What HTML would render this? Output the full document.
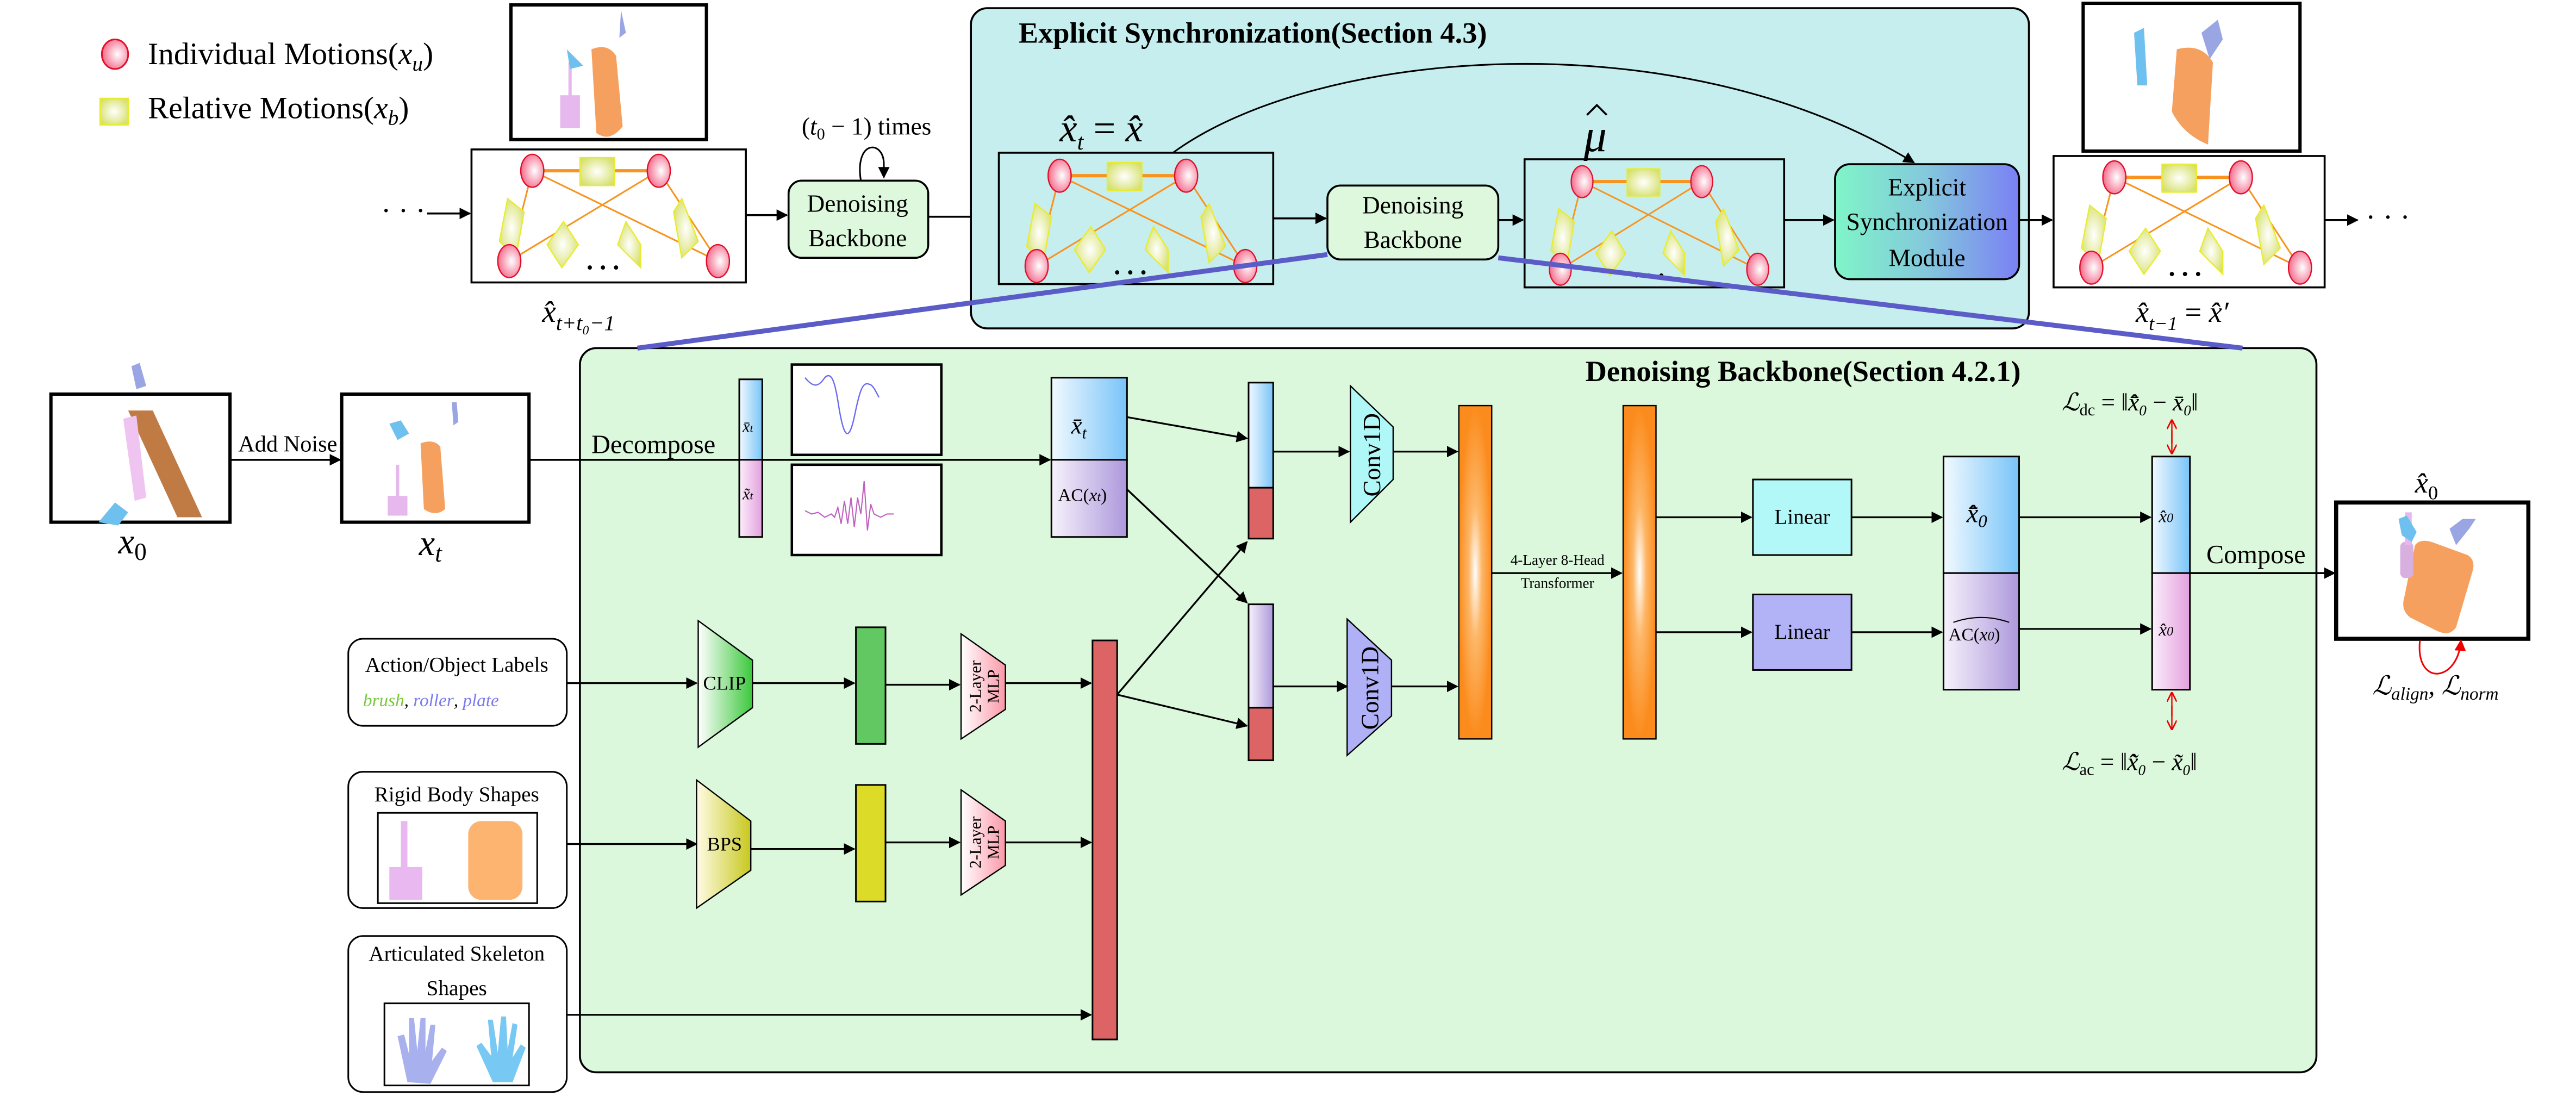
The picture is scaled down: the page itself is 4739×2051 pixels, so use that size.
<!DOCTYPE html>
<html><head><meta charset="utf-8"><style>
html,body{margin:0;padding:0;background:#fff;}
svg{display:block;}
text{font-family:"Liberation Serif",serif;fill:#000;}
</style></head><body>
<svg width="4739" height="2051" viewBox="0 0 1568 679" preserveAspectRatio="none" xmlns="http://www.w3.org/2000/svg">
<defs>
<marker id="ar" viewBox="0 0 10 10" refX="9" refY="5" markerWidth="7" markerHeight="7" orient="auto" markerUnits="userSpaceOnUse"><path d="M0,0 L10,5 L0,10 z" fill="#000"/></marker>
<marker id="rr" viewBox="0 0 10 10" refX="9" refY="5" markerWidth="6" markerHeight="6" orient="auto" markerUnits="userSpaceOnUse"><path d="M0,0 L10,5 L0,10" fill="none" stroke="#e00" stroke-width="1.5"/></marker>
<marker id="rf" viewBox="0 0 10 10" refX="9" refY="5" markerWidth="7" markerHeight="7" orient="auto" markerUnits="userSpaceOnUse"><path d="M0,0 L10,5 L0,10 z" fill="#e00"/></marker>
<radialGradient id="pk" cx="0.6" cy="0.5" r="0.6"><stop offset="0" stop-color="#fff"/><stop offset="1" stop-color="#f46a8c"/></radialGradient>
<radialGradient id="yl" cx="0.5" cy="0.5" r="0.6"><stop offset="0" stop-color="#fff"/><stop offset="1" stop-color="#d6e06a"/></radialGradient>
<linearGradient id="bl" x1="0" x2="1"><stop offset="0" stop-color="#f2f9ff"/><stop offset="1" stop-color="#78c4f8"/></linearGradient>
<linearGradient id="pu" x1="0" x2="1"><stop offset="0" stop-color="#f6f2fb"/><stop offset="1" stop-color="#ad98dc"/></linearGradient>
<linearGradient id="pi" x1="0" x2="1"><stop offset="0" stop-color="#fbeefb"/><stop offset="1" stop-color="#e3a0de"/></linearGradient>
<linearGradient id="gr" x1="0" x2="1"><stop offset="0" stop-color="#fff"/><stop offset="1" stop-color="#3cc83c"/></linearGradient>
<linearGradient id="ye" x1="0" x2="1"><stop offset="0" stop-color="#fffbe6"/><stop offset="1" stop-color="#c8c81e"/></linearGradient>
<linearGradient id="mp" x1="0" x2="1"><stop offset="0" stop-color="#fff"/><stop offset="1" stop-color="#fb98a8"/></linearGradient>
<linearGradient id="esm" x1="0" x2="1"><stop offset="0" stop-color="#7ff5c8"/><stop offset="0.5" stop-color="#84c8dc"/><stop offset="1" stop-color="#7a80f4"/></linearGradient>
<radialGradient id="or" cx="0.5" cy="0.5" r="0.5"><stop offset="0" stop-color="#fff"/><stop offset="0.4" stop-color="#fdb768"/><stop offset="1" stop-color="#fb8b1c"/></radialGradient>
<g id="graph">
<g stroke="#f7931e" stroke-width="1" fill="none">
<line x1="37" y1="13" x2="114" y2="13" stroke-width="2"/>
<line x1="37" y1="13" x2="150" y2="68"/>
<line x1="114" y1="13" x2="23" y2="68"/>
<line x1="37" y1="13" x2="23" y2="68"/>
<line x1="114" y1="13" x2="150" y2="68"/>
</g>
<rect x="66" y="5" width="21" height="17" fill="url(#yl)" stroke="#e8ec30" stroke-width="0.8"/>
<polygon points="22,30 32,38 27,66 17,56" fill="url(#yl)" stroke="#e8ec30" stroke-width="0.8"/>
<polygon points="128,30 138,56 128,66 123,38" fill="url(#yl)" stroke="#e8ec30" stroke-width="0.8"/>
<polygon points="56,44 65,58 55,72 46,58" fill="url(#yl)" stroke="#e8ec30" stroke-width="0.8"/>
<polygon points="94,44 103,58 103,72 89,58" fill="url(#yl)" stroke="#e8ec30" stroke-width="0.8"/>
<ellipse cx="37" cy="13" rx="7" ry="10" fill="url(#pk)" stroke="#e0102a" stroke-width="0.8"/>
<ellipse cx="114" cy="13" rx="7" ry="10" fill="url(#pk)" stroke="#e0102a" stroke-width="0.8"/>
<ellipse cx="23" cy="68" rx="7" ry="10" fill="url(#pk)" stroke="#e0102a" stroke-width="0.8"/>
<ellipse cx="150" cy="68" rx="7" ry="10" fill="url(#pk)" stroke="#e0102a" stroke-width="0.8"/>
<text x="70" y="73" font-size="16" font-weight="bold">. . .</text>
</g>
</defs>

<!-- legend -->
<ellipse cx="70" cy="33" rx="8" ry="9" fill="url(#pk)" stroke="#e0102a"/>
<text x="90" y="39" font-size="19">Individual Motions(<tspan font-style="italic">x</tspan><tspan font-style="italic" font-size="13" dy="4">u</tspan><tspan dy="-4">)</tspan></text>
<rect x="61" y="60" width="17" height="16" fill="url(#yl)" stroke="#e8ec30"/>
<text x="90" y="72" font-size="19">Relative Motions(<tspan font-style="italic">x</tspan><tspan font-style="italic" font-size="13" dy="4">b</tspan><tspan dy="-4">)</tspan></text>

<!-- top-left image -->
<rect x="311" y="3" width="119" height="82" fill="#fff" stroke="#000" stroke-width="2"/>
<rect x="341" y="58" width="12" height="20" fill="#e6b8ee"/><rect x="346" y="38" width="2" height="22" fill="#e6b8ee"/>
<path d="M360,30 q10,-4 15,4 l4,43 q-8,10 -16,4 z" fill="#f6a060"/>
<path d="M345,30 l10,10 -8,2 z" fill="#6ec1ee"/>
<path d="M378,6 l3,14 -4,3 z" fill="#9aa6e4"/>

<!-- graph 1 -->
<rect x="287" y="91" width="167" height="81" fill="#fff" stroke="#000" stroke-width="1.2"/>
<use href="#graph" x="287" y="91"/>
<text x="330" y="196" font-size="19" font-style="italic">x̂<tspan font-size="13" dy="5">t+t₀−1</tspan></text>
<text x="232" y="134" font-size="18">· · ·</text>
<line x1="260" y1="130" x2="286" y2="130" stroke="#000" stroke-width="1.2" marker-end="url(#ar)"/>
<line x1="454" y1="131" x2="479" y2="131" stroke="#000" stroke-width="1.2" marker-end="url(#ar)"/>

<!-- denoise 1 -->
<rect x="480" y="110" width="85" height="47" rx="8" fill="#ddf8dd" stroke="#000" stroke-width="1.2"/>
<text x="522" y="129" font-size="15" text-anchor="middle">Denoising</text>
<text x="522" y="150" font-size="15" text-anchor="middle">Backbone</text>
<path d="M524,110 C520,85 538,85 538,100 L538,108" fill="none" stroke="#000" stroke-width="1" marker-end="url(#ar)"/>
<text x="488" y="82" font-size="15">(<tspan font-style="italic">t</tspan><tspan font-size="10" dy="3">0</tspan><tspan dy="-3"> − 1) times</tspan></text>
<line x1="565" y1="132" x2="608" y2="132" stroke="#000" stroke-width="1.2" marker-end="url(#ar)"/>

<!-- explicit sync region -->
<rect x="591" y="5" width="644" height="195" rx="10" fill="#c6eeee" stroke="#000" stroke-width="1.2"/>
<text x="620" y="26" font-size="18" font-weight="bold">Explicit Synchronization(Section 4.3)</text>
<rect x="608" y="93" width="167" height="80" fill="none" stroke="#000" stroke-width="1.2"/>
<use href="#graph" x="608" y="94"/>
<text x="645" y="86" font-size="24" font-style="italic">x̂<tspan font-size="14" dy="5">t</tspan><tspan dy="-5" font-style="normal"> = </tspan>x̂</text>
<path d="M714,93 C800,30 1020,10 1165,99" fill="none" stroke="#000" stroke-width="1" marker-end="url(#ar)"/>
<line x1="775" y1="133" x2="807" y2="133" stroke="#000" stroke-width="1.2" marker-end="url(#ar)"/>
<rect x="808" y="113" width="104" height="45" rx="8" fill="#ddf8dd" stroke="#000" stroke-width="1.2"/>
<text x="860" y="130" font-size="15" text-anchor="middle">Denoising</text>
<text x="860" y="151" font-size="15" text-anchor="middle">Backbone</text>
<line x1="912" y1="134" x2="927" y2="134" stroke="#000" stroke-width="1.2" marker-end="url(#ar)"/>
<rect x="928" y="97" width="158" height="78" fill="none" stroke="#000" stroke-width="1.2"/>
<g transform="translate(928,98) scale(0.946,0.97)"><use href="#graph"/></g>
<text x="964" y="92" font-size="28" font-style="italic">μ</text>
<path d="M966,70 l6,-6 6,6" fill="none" stroke="#000" stroke-width="1.2"/>
<line x1="1086" y1="134" x2="1116" y2="134" stroke="#000" stroke-width="1.2" marker-end="url(#ar)"/>
<rect x="1117" y="100" width="112" height="70" rx="9" fill="url(#esm)" stroke="#000" stroke-width="1.2"/>
<text x="1173" y="119" font-size="15" text-anchor="middle">Explicit</text>
<text x="1173" y="140" font-size="15" text-anchor="middle">Synchronization</text>
<text x="1173" y="162" font-size="15" text-anchor="middle">Module</text>
<line x1="1229" y1="134" x2="1249" y2="134" stroke="#000" stroke-width="1.2" marker-end="url(#ar)"/>

<!-- top right -->
<rect x="1268" y="2" width="132" height="90" fill="#fff" stroke="#000" stroke-width="2"/>
<path d="M1325,30 q15,-4 22,8 l-3,50 q-15,-6 -22,-20 z" fill="#f6a060"/>
<path d="M1299,20 l6,-3 2,35 -6,0 z" fill="#6ec1ee"/>
<path d="M1340,20 l10,-8 3,12 -8,12 z" fill="#9aa6e4"/>
<rect x="1250" y="95" width="165" height="80" fill="#fff" stroke="#000" stroke-width="1.2"/>
<use href="#graph" x="1250" y="95"/>
<text x="1300" y="196" font-size="18" font-style="italic">x̂<tspan font-size="12" dy="5">t−1</tspan><tspan dy="-5" font-style="normal"> = </tspan>x̂′</text>
<line x1="1415" y1="134" x2="1435" y2="134" stroke="#000" stroke-width="1.2" marker-end="url(#ar)"/>
<text x="1440" y="138" font-size="18">· · ·</text>

<!-- denoising backbone region -->
<rect x="353" y="212" width="1057" height="441" rx="10" fill="#dcf8dc" stroke="#000" stroke-width="1.2"/>
<line x1="808" y1="155" x2="388" y2="212" stroke="#5c5cc8" stroke-width="3"/>
<line x1="912" y1="157" x2="1365" y2="212" stroke="#5c5cc8" stroke-width="3"/>
<text x="1230" y="232" font-size="18" font-weight="bold" text-anchor="end">Denoising Backbone(Section 4.2.1)</text>

<!-- x0 / xt -->
<rect x="31" y="240" width="109" height="78" fill="#fff" stroke="#000" stroke-width="2"/>
<path d="M78,250 l15,0 l30,65 -15,0 z" fill="#c07a44"/><path d="M75,255 l8,-2 6,50 -7,2 z" fill="#f0c4f0"/>
<path d="M60,318 l10,-12 8,6 -6,8 z" fill="#6ec1ee"/><path d="M80,223 l5,-2 4,14 -6,2 z" fill="#9aa6e4"/>
<text x="72" y="337" font-size="22" font-style="italic">x<tspan font-size="15" dy="4" font-style="normal">0</tspan></text>
<line x1="140" y1="280" x2="207" y2="280" stroke="#000" stroke-width="1.2" marker-end="url(#ar)"/>
<text x="145" y="275" font-size="14">Add Noise</text>
<rect x="208" y="240" width="114" height="78" fill="#fff" stroke="#000" stroke-width="2"/>
<path d="M256,270 q8,-3 12,2 l3,38 q-6,5 -13,0 z" fill="#f6a060"/><rect x="236" y="302" width="12" height="12" fill="#e6b8ee"/><rect x="241" y="283" width="2" height="20" fill="#e6b8ee"/>
<path d="M237,258 l7,-2 5,8 -7,4 z" fill="#6ec1ee"/><path d="M275,245 l3,0 1,12 -3,2 z" fill="#9aa6e4"/>
<text x="255" y="338" font-size="22" font-style="italic">x<tspan font-size="15" dy="4">t</tspan></text>
<line x1="322" y1="280" x2="639" y2="280" stroke="#000" stroke-width="1.2" marker-end="url(#ar)"/>
<text x="360" y="276" font-size="16">Decompose</text>

<!-- decompose bar -->
<rect x="450" y="231" width="14" height="49" fill="url(#bl)" stroke="#000"/>
<rect x="450" y="280" width="14" height="47" fill="url(#pi)" stroke="#000"/>
<text x="452" y="263" font-size="10" font-style="italic">x̄<tspan font-size="7">t</tspan></text>
<text x="452" y="304" font-size="10" font-style="italic">x̃<tspan font-size="7">t</tspan></text>
<rect x="482" y="222" width="91" height="55" fill="#fff" stroke="#000" stroke-width="1.5"/>
<path d="M490,230 c5,6 8,6 12,0 c4,-4 6,2 8,14 c3,20 6,28 10,10 c3,-15 5,-22 9,-20 c2,0 4,4 6,8" fill="none" stroke="#6a6af0" stroke-width="0.8"/>
<rect x="482" y="283" width="91" height="55" fill="#fff" stroke="#000" stroke-width="1.5"/>
<path d="M490,311 l4,2 4,-1 4,3 4,-2 2,2 2,-6 2,10 2,-14 2,14 2,-16 2,18 2,-18 2,10 2,-20 2,30 2,-16 2,6 4,2 4,-2 4,0" fill="none" stroke="#c060c0" stroke-width="0.7"/>

<rect x="640" y="230" width="46" height="50" fill="url(#bl)" stroke="#000"/>
<rect x="640" y="280" width="46" height="47" fill="url(#pu)" stroke="#000"/>
<text x="652" y="264" font-size="15" font-style="italic">x̄<tspan font-size="10" dy="3">t</tspan></text>
<text x="644" y="305" font-size="11">AC(<tspan font-style="italic">x<tspan font-size="8">t</tspan></tspan>)</text>

<line x1="686" y1="254" x2="759" y2="267" stroke="#000" stroke-width="1.1" marker-end="url(#ar)"/>
<line x1="686" y1="298" x2="759" y2="367" stroke="#000" stroke-width="1.1" marker-end="url(#ar)"/>
<line x1="680" y1="423" x2="759" y2="330" stroke="#000" stroke-width="1.1" marker-end="url(#ar)"/>
<line x1="680" y1="423" x2="759" y2="442" stroke="#000" stroke-width="1.1" marker-end="url(#ar)"/>

<rect x="760" y="233" width="15" height="64" fill="url(#bl)" stroke="#000"/>
<rect x="760" y="297" width="15" height="31" fill="#dc6464" stroke="#000"/>
<rect x="760" y="368" width="15" height="63" fill="url(#pu)" stroke="#000"/>
<rect x="760" y="431" width="15" height="32" fill="#dc6464" stroke="#000"/>

<line x1="775" y1="275" x2="821" y2="275" stroke="#000" stroke-width="1.1" marker-end="url(#ar)"/>
<line x1="775" y1="418" x2="820" y2="418" stroke="#000" stroke-width="1.1" marker-end="url(#ar)"/>
<polygon points="822,235 848,260 848,292 822,318" fill="#b0f8f8" stroke="#000" stroke-width="0.8"/>
<text transform="translate(840,277) rotate(-90)" font-size="15" text-anchor="middle">Conv1D</text>
<polygon points="820,377 847,402 847,436 820,460" fill="#b0b0f6" stroke="#000" stroke-width="0.8"/>
<text transform="translate(839,419) rotate(-90)" font-size="15" text-anchor="middle">Conv1D</text>
<line x1="848" y1="275" x2="887" y2="275" stroke="#000" stroke-width="1.1" marker-end="url(#ar)"/>
<line x1="847" y1="418" x2="887" y2="418" stroke="#000" stroke-width="1.1" marker-end="url(#ar)"/>

<rect x="888" y="247" width="20" height="203" fill="url(#or)" stroke="#000" stroke-width="0.8"/>
<rect x="988" y="247" width="20" height="203" fill="url(#or)" stroke="#000" stroke-width="0.8"/>
<line x1="908" y1="349" x2="987" y2="349" stroke="#000" stroke-width="1.1" marker-end="url(#ar)"/>
<text x="948" y="344" font-size="9" text-anchor="middle">4-Layer 8-Head</text>
<text x="948" y="358" font-size="9" text-anchor="middle">Transformer</text>

<line x1="1008" y1="315" x2="1066" y2="315" stroke="#000" stroke-width="1.1" marker-end="url(#ar)"/>
<line x1="1008" y1="385" x2="1066" y2="385" stroke="#000" stroke-width="1.1" marker-end="url(#ar)"/>
<rect x="1067" y="292" width="60" height="46" fill="#b2f8f8" stroke="#000"/>
<text x="1097" y="319" font-size="13" text-anchor="middle">Linear</text>
<rect x="1067" y="362" width="60" height="46" fill="#b2b2f6" stroke="#000"/>
<text x="1097" y="389" font-size="13" text-anchor="middle">Linear</text>
<line x1="1127" y1="315" x2="1182" y2="315" stroke="#000" stroke-width="1.1" marker-end="url(#ar)"/>
<line x1="1127" y1="385" x2="1182" y2="385" stroke="#000" stroke-width="1.1" marker-end="url(#ar)"/>

<rect x="1183" y="278" width="46" height="71" fill="url(#bl)" stroke="#000"/>
<rect x="1183" y="349" width="46" height="71" fill="url(#pu)" stroke="#000"/>
<text x="1197" y="318" font-size="16" font-style="italic">x̄̂<tspan font-size="11" dy="3">0</tspan></text>
<text x="1186" y="390" font-size="11">AC(<tspan font-style="italic">x<tspan font-size="8">0</tspan></tspan>)</text>
<path d="M1189,379 q17,-6 34,0" fill="none" stroke="#000" stroke-width="0.7"/>
<line x1="1229" y1="315" x2="1309" y2="315" stroke="#000" stroke-width="1.1" marker-end="url(#ar)"/>
<line x1="1229" y1="383" x2="1309" y2="383" stroke="#000" stroke-width="1.1" marker-end="url(#ar)"/>

<rect x="1310" y="278" width="23" height="71" fill="url(#bl)" stroke="#000"/>
<rect x="1310" y="349" width="23" height="71" fill="url(#pi)" stroke="#000"/>
<text x="1314" y="318" font-size="11" font-style="italic">x̂<tspan font-size="8">0</tspan></text>
<text x="1314" y="387" font-size="11" font-style="italic">x̂<tspan font-size="8">0</tspan></text>
<line x1="1322" y1="262" x2="1322" y2="276" stroke="#e00" stroke-width="0.8" marker-end="url(#rr)"/>
<line x1="1322" y1="270" x2="1322" y2="256" stroke="#e00" stroke-width="0.8" marker-end="url(#rr)"/>
<line x1="1322" y1="430" x2="1322" y2="444" stroke="#e00" stroke-width="0.8" marker-end="url(#rr)"/>
<line x1="1322" y1="436" x2="1322" y2="422" stroke="#e00" stroke-width="0.8" marker-end="url(#rr)"/>
<text x="1255" y="250" font-size="15" font-style="italic">ℒ<tspan font-size="10" dy="3" font-style="normal">dc</tspan><tspan dy="-3" font-style="normal"> = ‖</tspan>x̄̂<tspan font-size="9" dy="3">0</tspan><tspan dy="-3" font-style="normal"> − </tspan>x̄<tspan font-size="9" dy="3">0</tspan><tspan dy="-3" font-style="normal">‖</tspan></text>
<text x="1255" y="469" font-size="15" font-style="italic">ℒ<tspan font-size="10" dy="3" font-style="normal">ac</tspan><tspan dy="-3" font-style="normal"> = ‖</tspan>x̃̂<tspan font-size="9" dy="3">0</tspan><tspan dy="-3" font-style="normal"> − </tspan>x̃<tspan font-size="9" dy="3">0</tspan><tspan dy="-3" font-style="normal">‖</tspan></text>

<line x1="1333" y1="349" x2="1421" y2="349" stroke="#000" stroke-width="1.2" marker-end="url(#ar)"/>
<text x="1343" y="343" font-size="16">Compose</text>
<rect x="1422" y="306" width="117" height="83" fill="#fff" stroke="#000" stroke-width="2.5"/>
<path d="M1470,332 q3,-4 10,-2 l22,8 q5,3 3,10 l-10,34 q-4,6 -12,2 l-16,-8 q-5,-4 -4,-10 z" fill="#f6a060"/>
<rect x="1461" y="330" width="8" height="22" rx="3" fill="#d8b0e0"/><rect x="1464" y="312" width="4" height="20" fill="#e6b8ee"/>
<path d="M1460,316 l5,-2 6,10 -3,6 -6,-4 z" fill="#6ec1ee"/>
<path d="M1491,322 l8,-6 8,0 -4,6 -8,10 z" fill="#9aa6e4"/>
<text x="1470" y="300" font-size="18" font-style="italic">x̂<tspan font-size="12" dy="4" font-style="normal">0</tspan></text>
<path d="M1473,390 C1470,418 1496,416 1498,390" fill="none" stroke="#e00" stroke-width="1" marker-end="url(#rf)"/>
<text x="1444" y="423" font-size="16" font-style="italic">ℒ<tspan font-size="11" dy="3">align</tspan><tspan dy="-3">, ℒ</tspan><tspan font-size="11" dy="3">norm</tspan></text>

<!-- input boxes -->
<rect x="212" y="389" width="133" height="53" rx="9" fill="#fff" stroke="#000"/>
<text x="278" y="409" font-size="13" text-anchor="middle">Action/Object Labels</text>
<text x="221" y="430" font-size="11" font-style="italic" font-family="Liberation Sans,sans-serif"><tspan fill="#78c83c">brush</tspan>, <tspan fill="#7a7af0">roller</tspan>, <tspan fill="#7a7af0">plate</tspan></text>
<rect x="212" y="470" width="133" height="83" rx="9" fill="#fff" stroke="#000"/>
<text x="278" y="488" font-size="13" text-anchor="middle">Rigid Body Shapes</text>
<rect x="230" y="495" width="97" height="55" fill="#fff" stroke="#000"/>
<rect x="237" y="528" width="20" height="20" fill="#eab8f0"/><rect x="244" y="500" width="4" height="30" fill="#eab8f0"/>
<rect x="285" y="500" width="33" height="48" rx="8" fill="#fdb470"/>
<rect x="212" y="570" width="133" height="95" rx="9" fill="#fff" stroke="#000"/>
<text x="278" y="585" font-size="13" text-anchor="middle">Articulated Skeleton</text>
<text x="278" y="606" font-size="13" text-anchor="middle">Shapes</text>
<rect x="234" y="611" width="88" height="50" fill="#fff" stroke="#000"/>
<path d="M248,659 l-6,-28 4,-1 3,12 0,-22 3,0 2,20 2,-20 3,0 0,20 3,-16 3,0 -2,22 6,-8 3,2 -10,20 z" fill="#a8b0ee"/>
<path d="M300,659 l-10,-22 3,-2 6,8 -2,-22 3,0 3,20 2,-22 3,0 1,20 3,-16 3,1 -3,20 5,-8 3,2 -8,21 z" fill="#78c8f4"/>

<line x1="345" y1="416" x2="424" y2="416" stroke="#000" stroke-width="1.1" marker-end="url(#ar)"/>
<line x1="345" y1="514" x2="424" y2="514" stroke="#000" stroke-width="1.1" marker-end="url(#ar)"/>
<line x1="345" y1="618" x2="664" y2="618" stroke="#000" stroke-width="1.1" marker-end="url(#ar)"/>
<polygon points="425,378 458,402 458,431 425,455" fill="url(#gr)" stroke="#000" stroke-width="0.8"/>
<text x="441" y="420" font-size="12" text-anchor="middle">CLIP</text>
<polygon points="424,475 457,500 457,530 424,553" fill="url(#ye)" stroke="#000" stroke-width="0.8"/>
<text x="441" y="518" font-size="12" text-anchor="middle">BPS</text>
<line x1="458" y1="416" x2="520" y2="416" stroke="#000" stroke-width="1.1" marker-end="url(#ar)"/>
<line x1="457" y1="517" x2="520" y2="517" stroke="#000" stroke-width="1.1" marker-end="url(#ar)"/>
<rect x="521" y="382" width="18" height="71" fill="#62c862" stroke="#000"/>
<rect x="521" y="478" width="18" height="71" fill="#dcdc28" stroke="#000"/>
<line x1="539" y1="417" x2="584" y2="417" stroke="#000" stroke-width="1.1" marker-end="url(#ar)"/>
<line x1="539" y1="513" x2="584" y2="513" stroke="#000" stroke-width="1.1" marker-end="url(#ar)"/>
<polygon points="585,386 612,405 612,432 585,450" fill="url(#mp)" stroke="#000" stroke-width="0.8"/>
<text transform="translate(597,418) rotate(-90)" font-size="10" text-anchor="middle">2-Layer</text>
<text transform="translate(608,418) rotate(-90)" font-size="10" text-anchor="middle">MLP</text>
<polygon points="585,481 612,500 612,527 585,545" fill="url(#mp)" stroke="#000" stroke-width="0.8"/>
<text transform="translate(597,513) rotate(-90)" font-size="10" text-anchor="middle">2-Layer</text>
<text transform="translate(608,513) rotate(-90)" font-size="10" text-anchor="middle">MLP</text>
<line x1="612" y1="416" x2="664" y2="416" stroke="#000" stroke-width="1.1" marker-end="url(#ar)"/>
<line x1="612" y1="513" x2="664" y2="513" stroke="#000" stroke-width="1.1" marker-end="url(#ar)"/>
<rect x="665" y="390" width="15" height="243" fill="#dc6464" stroke="#000"/>
</svg>
</body></html>
